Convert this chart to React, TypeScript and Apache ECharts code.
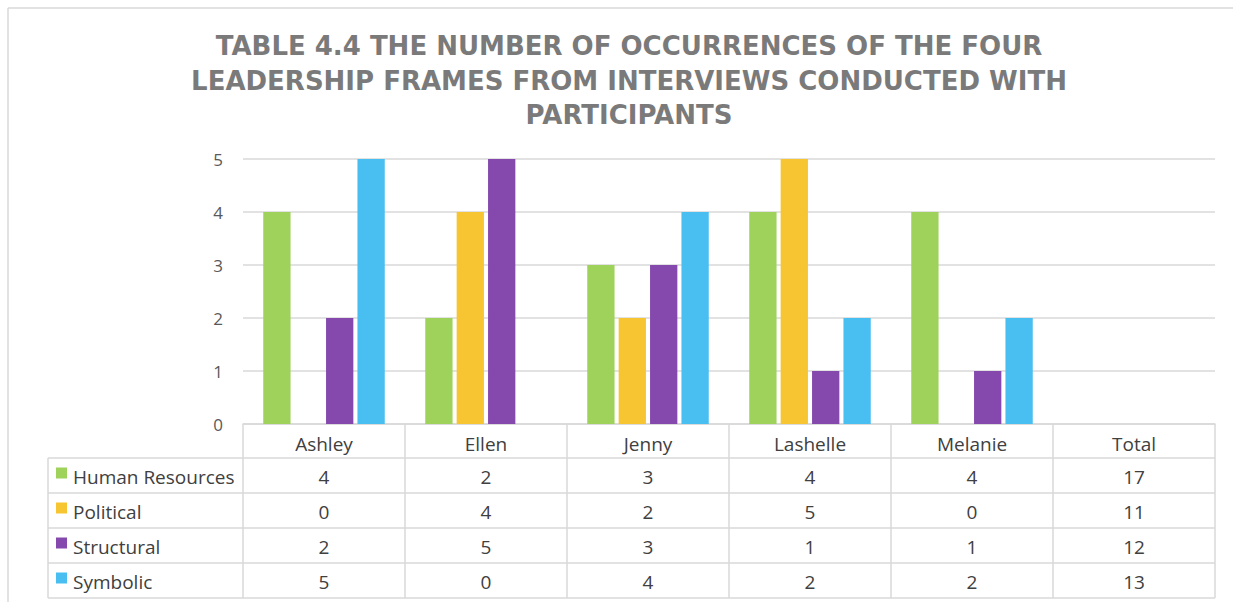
import React, { useEffect, useRef } from "react";
import * as echarts from "echarts";

const categories = ["Ashley", "Ellen", "Jenny", "Lashelle", "Melanie", "Total"];
const seriesNames = ["Human Resources", "Political", "Structural", "Symbolic"];
const humanResources = [4, 2, 3, 4, 4];
const political = [0, 4, 2, 5, 0];
const structural = [2, 5, 3, 1, 1];
const symbolic = [5, 0, 4, 2, 2];
const totals = [17, 11, 12, 13];
const seriesColors = ["#9fd25a", "#f8c532", "#8548ad", "#49bef0"];
const titleText =
  "TABLE 4.4 THE NUMBER OF OCCURRENCES OF THE FOUR\nLEADERSHIP FRAMES FROM INTERVIEWS CONDUCTED WITH\nPARTICIPANTS";

const W = 1233;
const H = 602;
const LINE = "#d9d9d9";
const TEXT = "#404040";
const FONT = "'Open Sans', 'Noto Sans', sans-serif";
const TITLE_FONT = "'DejaVu Sans', 'Open Sans', sans-serif";

export default function App() {
  const ref = useRef<HTMLDivElement>(null);
  useEffect(() => {
    if (!ref.current) return;
    const chart = echarts.init(ref.current, null, { renderer: "svg" });
    const allSeries = [humanResources, political, structural, symbolic];
    const option: any = {
      animation: false,
      backgroundColor: "#ffffff",
      textStyle: { fontFamily: FONT },
      title: {
        text: titleText,
        left: 624,
        top: 24,
        textAlign: "center",
        textStyle: {
          fontFamily: TITLE_FONT,
          fontWeight: "bold",
          fontSize: 26,
          color: "#7a7a7a",
          lineHeight: 34.5,
        },
      },
      grid: { left: 243, right: W - 1215, top: 159, bottom: H - 424, containLabel: false },
      xAxis: {
        type: "category",
        data: categories,
        axisLine: { show: true, lineStyle: { color: LINE, width: 1.5 } },
        axisTick: { show: false },
        axisLabel: { color: TEXT, fontSize: 19, margin: 10, fontFamily: FONT, interval: 0 },
      },
      yAxis: {
        type: "value",
        min: 0,
        max: 5,
        interval: 1,
        axisLine: { show: false },
        axisTick: { show: false },
        axisLabel: { color: "#595959", fontSize: 17, margin: 20, fontFamily: FONT },
        splitLine: { lineStyle: { color: LINE, width: 1.5 } },
      },
      series: seriesNames.map((name, i) => ({
        name,
        type: "bar",
        data: allSeries[i],
        itemStyle: { color: seriesColors[i] },
        barGap: "15%",
        barCategoryGap: "25%",
      })),
    };
    chart.setOption(option);

    const c0 = chart.convertToPixel({ xAxisIndex: 0 }, 0) as number;
    const c1 = chart.convertToPixel({ xAxisIndex: 0 }, 1) as number;
    const colW = c1 - c0;
    const yZero = chart.convertToPixel({ yAxisIndex: 0 }, 0) as number;
    const gridLeft = c0 - colW / 2;
    const gridRight = gridLeft + colW * categories.length;
    const tableLeft = 48;
    const headerH = 34;
    const rowH = 35;
    const rowsTop = yZero + headerH;
    const tableBottom = rowsTop + rowH * seriesNames.length;
    const graphics: any[] = [];
    const ls = { stroke: LINE, lineWidth: 1.5 };
    graphics.push({ type: "line", shape: { x1: 8, y1: 8, x2: W, y2: 8 }, style: ls });
    graphics.push({ type: "line", shape: { x1: 8, y1: 8, x2: 8, y2: H }, style: ls });
    for (let r = 0; r <= seriesNames.length; r++) {
      const y = rowsTop + r * rowH;
      graphics.push({ type: "line", shape: { x1: tableLeft, y1: y, x2: gridRight, y2: y }, style: ls });
    }
    graphics.push({ type: "line", shape: { x1: tableLeft, y1: rowsTop, x2: tableLeft, y2: tableBottom }, style: ls });
    for (let k = 0; k <= categories.length; k++) {
      const x = gridLeft + k * colW;
      graphics.push({ type: "line", shape: { x1: x, y1: yZero, x2: x, y2: tableBottom }, style: ls });
    }
    seriesNames.forEach((name, r) => {
      const cy = rowsTop + r * rowH + rowH / 2;
      graphics.push({ type: "rect", shape: { x: 56, y: cy - 8, width: 11, height: 11 }, style: { fill: seriesColors[r] } });
      graphics.push({
        type: "text",
        x: 73,
        y: cy + 1,
        style: { text: name, fill: TEXT, font: `19px ${FONT}`, textAlign: "left", textVerticalAlign: "middle" },
      });
      const vals = allSeries[r].concat([totals[r]]);
      vals.forEach((v, k) => {
        const cx = chart.convertToPixel({ xAxisIndex: 0 }, k) as number;
        graphics.push({
          type: "text",
          x: cx,
          y: cy + 1,
          style: { text: String(v), fill: TEXT, font: `19px ${FONT}`, textAlign: "center", textVerticalAlign: "middle" },
        });
      });
    });
    chart.setOption({ graphic: graphics });
    return () => chart.dispose();
  }, []);
  return (
    <div
      ref={ref}
      style={{ position: "fixed", left: 0, top: 0, width: W + "px", height: H + "px", background: "#fff" }}
    />
  );
}
